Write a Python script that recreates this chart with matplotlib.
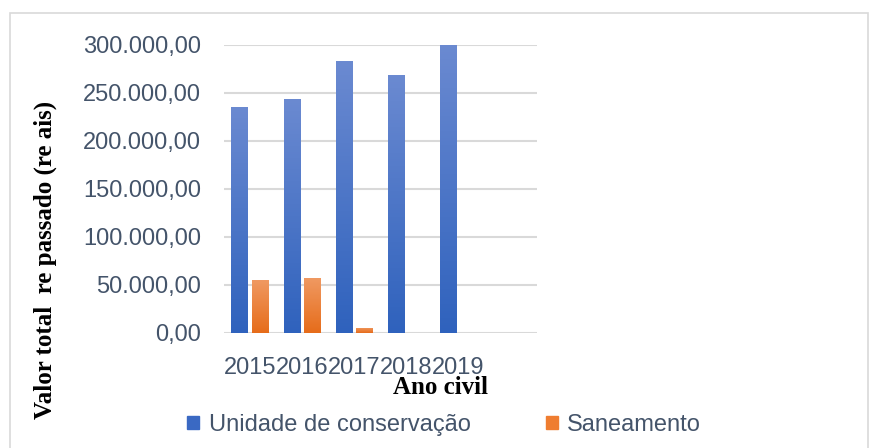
import matplotlib.pyplot as plt
import numpy as np
from matplotlib.colors import LinearSegmentedColormap
from matplotlib.patches import Rectangle
from matplotlib.ticker import FuncFormatter

anos = ["2015", "2016", "2017", "2018", "2019", ""]
unidade = [235500, 243500, 283000, 268500, 300000, 0]
saneamento = [55500, 57500, 5500, 0, 0, 0]
yticks = [0, 50000, 100000, 150000, 200000, 250000, 300000]

tick_color = "#44546a"
grid_color = "#d9d9d9"


def br_fmt(v, pos):
    s = f"{v:,.2f}"
    return s.replace(",", "X").replace(".", ",").replace("X", ".")


def gradient_bars(ax, bars, top_col, bot_col):
    # vertical gradient inside each bar, lighter on top
    grad = np.linspace(0, 1, 256).reshape(-1, 1)
    cmap = LinearSegmentedColormap.from_list("g", [bot_col, top_col])
    for b in bars:
        h = b.get_height()
        if h <= 0:
            continue
        x0 = b.get_x()
        w = b.get_width()
        im = ax.imshow(grad, extent=[x0, x0 + w, 0, h], origin="lower",
                       aspect="auto", cmap=cmap, zorder=3)
        im.set_clip_path(b)
        b.set_facecolor("none")


fig = plt.figure(figsize=(8.71, 4.48), dpi=100)
ax = fig.add_axes([0.257, 0.2567, 0.359, 0.6429])

x = np.arange(len(anos))
w = 0.32
off = 0.195
b1 = ax.bar(x - off, unidade, w, color="#4472c4", zorder=3, linewidth=0)
b2 = ax.bar(x + off, saneamento, w, color="#ed7d31", zorder=3, linewidth=0)
gradient_bars(ax, b1, "#6b8ad1", "#2f62bd")
gradient_bars(ax, b2, "#f09a63", "#e66c1a")

ax.set_xlim(-0.5, 5.5)
ax.set_ylim(0, 300000)
ax.set_yticks(yticks)
ax.yaxis.set_major_formatter(FuncFormatter(br_fmt))
ax.set_xticks(x)
ax.set_xticklabels(anos)
ax.grid(axis="y", color=grid_color, linewidth=1.5, zorder=0)
ax.set_axisbelow(True)
for s in ax.spines.values():
    s.set_visible(False)
ax.tick_params(length=0, labelsize=17, labelcolor=tick_color)
ax.tick_params(axis="y", pad=16.5)
ax.tick_params(axis="x", pad=17)
for t in ax.get_xticklabels() + ax.get_yticklabels():
    t.set_fontfamily("Liberation Sans")

fig.text(0.052, 0.42, "Valor total  re passado (re ais)", rotation=90,
         ha="center", va="center", fontsize=18, fontweight="bold",
         family="Liberation Serif")
fig.text(0.506, 0.136, "Ano civil", ha="center", va="center", fontsize=18,
         fontweight="bold", family="Liberation Serif", zorder=5)

handles = [Rectangle((0, 0), 1, 1, color="#3a69c3"),
           Rectangle((0, 0), 1, 1, color="#ef7d30")]
leg = fig.legend(handles, ["Unidade de conservação", "Saneamento"],
                 loc="center", bbox_to_anchor=(0.51, 0.051), ncol=2,
                 frameon=False, handlelength=0.5, handleheight=0.5,
                 handletextpad=0.4, columnspacing=3.2,
                 prop={"family": "Liberation Sans", "size": 17})
for t in leg.get_texts():
    t.set_color(tick_color)

fig.patches.append(Rectangle((0.011, -0.01), 0.985, 0.98,
                             transform=fig.transFigure, fill=False,
                             edgecolor="#d9d9d9", linewidth=1.2))

fig.savefig("out.png", dpi=100)
